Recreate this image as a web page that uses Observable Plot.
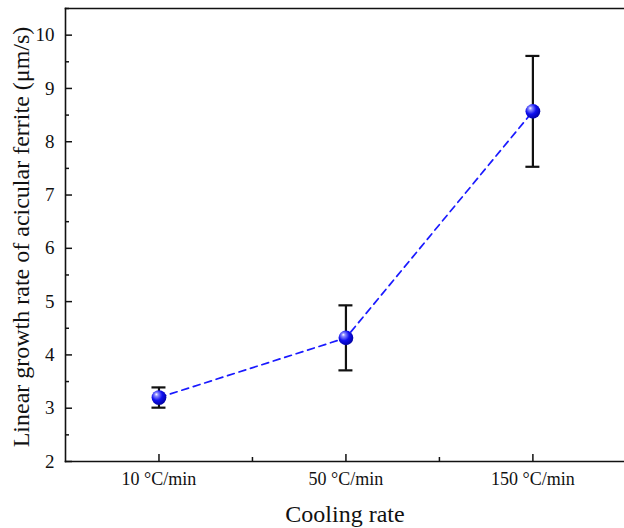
<!DOCTYPE html>
<html><head><meta charset="utf-8">
<script src="https://cdn.jsdelivr.net/npm/d3@7"></script>
<script src="https://cdn.jsdelivr.net/npm/@observablehq/plot@0.6"></script>
<style>body{margin:0;background:#fff} #chart svg{display:block}</style>
</head><body><div id="chart"></div>
<script>
const categories = ["10 °C/min", "50 °C/min", "150 °C/min"];
const rates = [3.20, 4.32, 8.57];
const errors = [0.19, 0.61, 1.04];
const yTickValues = [2, 3, 4, 5, 6, 7, 8, 9, 10];
const yMinorValues = [2.5, 3.5, 4.5, 5.5, 6.5, 7.5, 8.5, 9.5, 10.5];
const xTickValues = [0, 1, 2];
const xMinorValues = [0.5, 1.5];
const xTitle = "Cooling rate";
const yTitle = "Linear growth rate of acicular ferrite (μm/s)";

const W = 624, H = 528, mL = 65, mR = 0, mT = 8, mB = 67;
const plotW = W - mL - mR, plotH = H - mT - mB;
const xDomain = [-0.5, 2.49];
const step = plotW / (xDomain[1] - xDomain[0]);
const capHalf = 7 / step;
const font = "'Liberation Serif', 'Times New Roman', serif";

const data = categories.map((c, i) => ({i, c, v: rates[i], e: errors[i]}));

const plot = Plot.plot({
  width: W, height: H,
  marginLeft: mL, marginRight: mR, marginTop: mT, marginBottom: mB,
  style: {fontFamily: font, background: "white", color: "#111"},
  x: {type: "linear", domain: xDomain, axis: null},
  y: {domain: [2, 10.5], axis: null},
  marks: [
    Plot.frame({anchor: "left", strokeWidth: 1.6}),
    Plot.frame({anchor: "bottom", strokeWidth: 1.6}),
    Plot.frame({anchor: "top", strokeWidth: 1.6}),
    Plot.tickY(yTickValues, {y: d => d, insetRight: plotW - 7, strokeWidth: 1.5}),
    Plot.tickY(yMinorValues, {y: d => d, insetRight: plotW - 4, strokeWidth: 1.5}),
    Plot.tickX(xTickValues, {x: d => d, insetTop: plotH - 7, strokeWidth: 1.5}),
    Plot.tickX(xMinorValues, {x: d => d, insetTop: plotH - 4, strokeWidth: 1.5}),
    Plot.text(yTickValues, {y: d => d, text: d => String(d), frameAnchor: "left", textAnchor: "end", dx: -11, fontSize: 19, fontFamily: font, fill: "#111"}),
    Plot.text(xTickValues, {x: d => d, text: i => categories[i], frameAnchor: "bottom", lineAnchor: "middle", dy: 18, fontSize: 18, fontFamily: font, fill: "#111"}),
    Plot.text([yTitle], {frameAnchor: "left", textAnchor: "middle", dx: -44, dy: 2, rotate: -90, fontSize: 24, fontFamily: font, fill: "#111"}),
    Plot.text([xTitle], {frameAnchor: "bottom", lineAnchor: "middle", dy: 53, fontSize: 24, fontFamily: font, fill: "#111"}),
    Plot.line(data, {x: "i", y: "v", stroke: "#1a1aff", strokeWidth: 1.7, strokeDasharray: "7,5"}),
    Plot.ruleX(data, {x: "i", y1: d => d.v - d.e, y2: d => d.v + d.e, stroke: "#111", strokeWidth: 2.2}),
    Plot.ruleY(data, {y: d => d.v + d.e, x1: d => d.i - capHalf, x2: d => d.i + capHalf, stroke: "#111", strokeWidth: 2.2}),
    Plot.ruleY(data, {y: d => d.v - d.e, x1: d => d.i - capHalf, x2: d => d.i + capHalf, stroke: "#111", strokeWidth: 2.2}),
    Plot.dot(data, {x: "i", y: "v", r: 7.4, fill: "url(#ball)", stroke: "none"})
  ]
});

const svg = d3.select(plot);
const defs = svg.insert("defs", ":first-child");
const g = defs.append("radialGradient").attr("id", "ball")
  .attr("cx", "40%").attr("cy", "38%").attr("r", "65%").attr("fx", "32%").attr("fy", "28%");
g.append("stop").attr("offset", "0%").attr("stop-color", "#ffffff");
g.append("stop").attr("offset", "18%").attr("stop-color", "#8c8cff");
g.append("stop").attr("offset", "55%").attr("stop-color", "#1010f0");
g.append("stop").attr("offset", "100%").attr("stop-color", "#0000a0");

document.getElementById("chart").appendChild(plot);
</script>
</body></html>
